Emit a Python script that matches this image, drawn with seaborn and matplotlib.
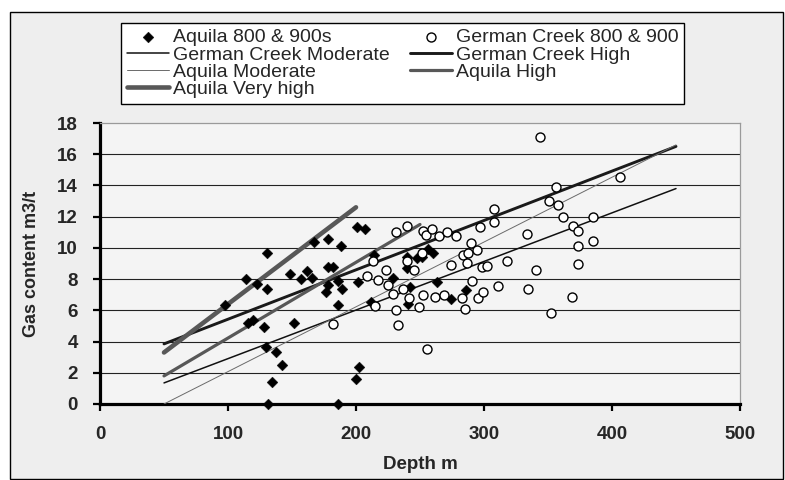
import matplotlib
matplotlib.use("Agg")
import matplotlib.pyplot as plt
from matplotlib.patches import Rectangle
import seaborn as sns

# ---------------- data ----------------
aquila_depth = [97.7, 114.3, 115.4, 119.8, 122.7, 128.4, 129.4, 130.7, 130.7, 131.5,
                134.1, 137.5, 142.4, 148.4, 151.8, 156.7, 161.4, 165.9, 167.2, 176.6,
                177.9, 178.4, 178.4, 182.3, 186.2, 186.2, 186.2, 188.3, 188.8, 200.5,
                207.0, 201.3, 202.6, 200.0, 211.7, 214.0, 228.6, 239.6, 247.4, 251.3,
                256.5, 259.9, 239.6, 242.2, 263.5, 240.9, 274.0, 285.7]
aquila_gas = [6.35, 8.0, 5.2, 5.38, 7.7, 4.96, 3.63, 9.7, 7.37, 0.0,
              1.39, 3.3, 2.48, 8.31, 5.17, 8.0, 8.55, 8.1, 10.4, 7.2,
              10.6, 8.76, 7.63, 8.76, 7.9, 6.35, 0.0, 10.1, 7.37, 11.37,
              11.22, 7.84, 2.4, 1.6, 6.56, 9.55, 8.1, 9.44, 9.34, 9.4,
              9.91, 9.66, 8.69, 7.52, 7.8, 6.41, 6.73, 7.31]

gc_depth = [181.7, 208.9, 213.5, 214.5, 217.4, 223.2, 225.2, 228.8, 231.3, 231.3,
            233.1, 237.0, 239.6, 239.6, 241.7, 245.3, 249.2, 251.3, 252.6, 252.6,
            254.7, 255.7, 259.1, 261.7, 265.1, 268.8, 271.0, 274.0, 278.1, 282.6,
            283.8, 285.2, 286.5, 287.2, 289.8, 291.0, 294.8, 295.6, 296.9, 298.7,
            299.5, 302.0, 307.8, 307.8, 311.2, 318.2, 333.3, 334.6, 340.4, 343.8,
            351.0, 352.0, 356.5, 358.0, 362.0, 368.5, 369.8, 373.2, 373.2, 373.7,
            384.8, 385.4, 406.3]
gc_gas = [5.13, 8.2, 9.17, 6.3, 7.95, 8.59, 7.63, 7.05, 11.0, 6.03,
          5.03, 7.35, 11.43, 9.17, 6.77, 8.59, 6.24, 9.66, 11.1, 6.99,
          10.83, 3.5, 11.2, 6.88, 10.73, 6.99, 11.0, 8.9, 10.73, 6.77,
          9.55, 6.09, 9.06, 9.66, 10.34, 7.9, 9.87, 6.77, 11.37, 8.8,
          7.16, 8.87, 12.48, 11.69, 7.56, 9.19, 10.9, 7.35, 8.59, 17.09,
          13.03, 5.81, 13.9, 12.76, 11.97, 6.88, 11.4, 10.15, 8.97, 11.1,
          11.97, 10.45, 14.57]

gc_mod_x, gc_mod_y = [50, 450], [1.35, 13.8]
gc_high_x, gc_high_y = [50, 450], [3.85, 16.5]
aq_mod_x, aq_mod_y = [50, 450], [0.0, 16.6]
aq_high_x, aq_high_y = [50, 250], [1.8, 11.5]
aq_vh_x, aq_vh_y = [50, 200], [3.3, 12.6]

x_ticks = [0, 100, 200, 300, 400, 500]
y_ticks = [0, 2, 4, 6, 8, 10, 12, 14, 16, 18]

# ---------------- style ----------------
sns.set_style("ticks")
plt.rcParams["font.family"] = ["Liberation Sans", "DejaVu Sans"]

W, H = 785, 480
fig = plt.figure(figsize=(W / 100, H / 100), dpi=100, facecolor="white")

# outer chart frame
frame = Rectangle((10 / W, 1 / H), 773 / W, (479 - 12) / H,
                  transform=fig.transFigure, facecolor="#eeeeee",
                  edgecolor="black", linewidth=1.0, zorder=-10)
fig.add_artist(frame)

ax = fig.add_axes([100 / W, 1 - 404 / H, 640 / W, 281 / H])
ax.set_facecolor("#f4f4f4")

line_specs = [
    (gc_mod_x, gc_mod_y, "German Creek Moderate", "#111111", 1.1),
    (gc_high_x, gc_high_y, "German Creek High", "#1a1a1a", 2.1),
    (aq_mod_x, aq_mod_y, "Aquila Moderate", "#6a6a6a", 0.7),
    (aq_high_x, aq_high_y, "Aquila High", "#585858", 2.3),
    (aq_vh_x, aq_vh_y, "Aquila Very high", "#585858", 3.3),
]
for xs, ys, lab, col, lw in line_specs:
    sns.lineplot(x=xs, y=ys, ax=ax, color=col, linewidth=lw, label=lab,
                 solid_capstyle="round", zorder=3)

sns.scatterplot(x=aquila_depth, y=aquila_gas, ax=ax, marker="D", s=30,
                color="black", edgecolor="black", linewidth=0.3,
                label="Aquila 800 & 900s", zorder=5, clip_on=False)
sns.scatterplot(x=gc_depth, y=gc_gas, ax=ax, marker="o", s=42,
                facecolor="white", edgecolor="black", linewidth=1.0,
                label="German Creek 800 & 900", zorder=5, clip_on=False)

if ax.get_legend() is not None:
    ax.get_legend().remove()

ax.set_xlim(0, 500)
ax.set_ylim(0, 18)
ax.set_xticks(x_ticks)
ax.set_yticks(y_ticks)
ax.yaxis.grid(True, color="#222222", linewidth=0.8)
ax.xaxis.grid(False)
ax.set_axisbelow(True)
ax.yaxis.get_gridlines()[-1].set_visible(False)

for side in ["left", "bottom"]:
    ax.spines[side].set_color("black")
    ax.spines[side].set_linewidth(2.3)
for side in ["top", "right"]:
    ax.spines[side].set_visible(True)
    ax.spines[side].set_color("#9a9a9a")
    ax.spines[side].set_linewidth(0.9)

ax.tick_params(axis="both", direction="out", length=5, width=1.6,
               color="black", labelsize=13.5, pad=11)
for t in ax.get_xticklabels() + ax.get_yticklabels():
    t.set_fontweight("bold")

ax.set_xlabel("Depth m", fontsize=13.5, fontweight="bold")
ax.set_ylabel("Gas content m3/t", fontsize=13, fontweight="bold")
ax.xaxis.set_label_coords(0.5, -0.185)
ax.yaxis.set_label_coords(-0.093, 0.5)

# legend
handles, labels = ax.get_legend_handles_labels()
hd = dict(zip(labels, handles))
order = ["Aquila 800 & 900s", "German Creek Moderate", "Aquila Moderate",
         "Aquila Very high", "German Creek 800 & 900", "German Creek High",
         "Aquila High"]
leg = fig.legend([hd[k] for k in order], order, loc="upper left",
                 bbox_to_anchor=(121 / W, 1 - 105 / H, (684 - 121) / W, (105 - 23) / H),
                 mode="expand", ncol=2, fontsize=14, frameon=True,
                 fancybox=False, edgecolor="black", facecolor="white",
                 framealpha=1, borderpad=0.3, labelspacing=-0.02,
                 handlelength=2.15, handletextpad=0.2, borderaxespad=0,
                 columnspacing=1.0)
leg.get_frame().set_linewidth(1.0)

fig.savefig("out.png", dpi=100, facecolor="white")
